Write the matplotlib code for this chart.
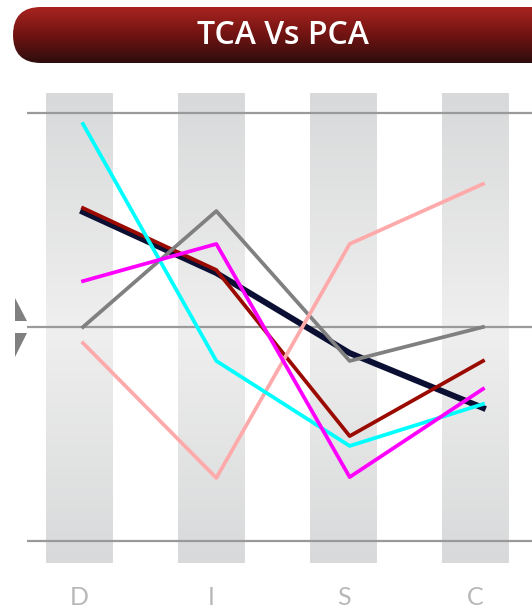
import numpy as np
import matplotlib
matplotlib.use("Agg")
import matplotlib.pyplot as plt
from matplotlib.patches import FancyBboxPatch, Polygon
from matplotlib.colors import LinearSegmentedColormap

# chart data
categories = ["D", "I", "S", "C"]
title = "TCA Vs PCA"

navy_vals = [0.539, 0.253, -0.122, -0.379]
darkred_vals = [0.557, 0.267, -0.511, -0.159]
gray_vals = [0.0, 0.543, -0.159, 0.0]
pink_vals = [-0.075, -0.707, 0.389, 0.670]
cyan_vals = [0.951, -0.159, -0.557, -0.361]
magenta_vals = [0.215, 0.389, -0.703, -0.290]

W, H = 532, 609
fig = plt.figure(figsize=(W / 100, H / 100), dpi=100)

# main axes covers whole figure (data units)
ax = fig.add_axes([0, 0, 1, 1])
ax.set_xlim(-0.6225, 3.3675)
ax.set_ylim(-1.3208, 1.5316)
ax.axis("off")

x = np.arange(len(categories))

# grey column bands with vertical gradient
band_cmap = LinearSegmentedColormap.from_list(
    "band", ["#d8d9da", "#efefef", "#d8d9da"])
grad = np.linspace(0, 1, 256).reshape(-1, 1)
bar_w = 0.5
bar_top, bar_bot = 1.094, -1.106
for i in x:
    cx = i * 0.99 - 0.025
    ax.imshow(grad, cmap=band_cmap, aspect="auto",
              extent=(cx - bar_w / 2, cx + bar_w / 2, bar_bot, bar_top),
              zorder=1, interpolation="bicubic")

# horizontal guide lines
for yv in [1.0, 0.0, -1.0]:
    ax.plot([-0.42, 3.37], [yv, yv], color="#9a9a9a", lw=1.6, zorder=2,
            solid_capstyle="butt")

# series
ax.plot(x, navy_vals, color="#0b0f33", lw=4.3, zorder=3)
ax.plot(x, darkred_vals, color="#9b0a00", lw=2.7, zorder=4)
ax.plot(x, gray_vals, color="#808080", lw=2.7, zorder=4)
ax.plot(x, pink_vals, color="#ffaaaa", lw=2.7, zorder=4)
ax.plot(x, cyan_vals, color="#00ffff", lw=2.7, zorder=5)
ax.plot(x, magenta_vals, color="#ff00ff", lw=2.7, zorder=6)

# category labels
for i, lab in enumerate(categories):
    ax.text(i * 0.99 - 0.025, -1.269, lab, ha="center", va="center",
            fontsize=18, color="#b8b8b8", family="Lato", zorder=7)

# overlay axes in pixel coordinates for banner and markers
pa = fig.add_axes([0, 0, 1, 1])
pa.set_xlim(0, W)
pa.set_ylim(H, 0)
pa.axis("off")
pa.patch.set_alpha(0)

# side triangles
pa.add_patch(Polygon([(15, 298), (15, 321), (27, 321)], closed=True,
                     color="#808080", lw=0))
pa.add_patch(Polygon([(15, 333), (27, 333), (15, 357)], closed=True,
                     color="#808080", lw=0))

# title banner with gradient
banner = FancyBboxPatch((13, 7), 600, 56,
                        boxstyle="round,pad=0,rounding_size=28",
                        fc="none", ec="none")
pa.add_patch(banner)
banner_cmap = LinearSegmentedColormap.from_list(
    "banner", ["#a8231f", "#701412", "#2e0d0d"])
im = pa.imshow(grad, cmap=banner_cmap, aspect="auto",
               extent=(13, 620, 63, 7), zorder=2)
im.set_clip_path(banner)
pa.text(283, 36, title, ha="center", va="center", fontsize=23,
        color="white", family="Open Sans", fontweight="semibold", zorder=3)
pa.set_xlim(0, W)
pa.set_ylim(H, 0)

fig.savefig("out.png", dpi=100)
